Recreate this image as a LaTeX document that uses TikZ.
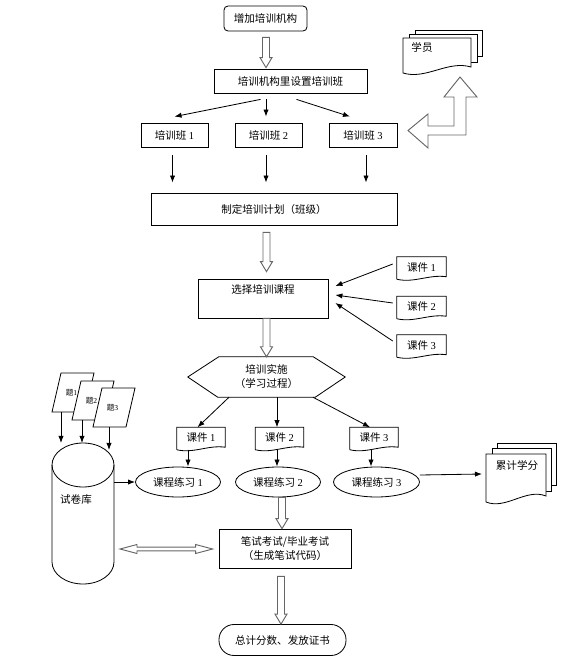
\documentclass[tikz,border=0pt]{standalone}
\usepackage{fontspec}
\setmainfont{Liberation Serif}
\newfontfamily\cjk{Noto Sans CJK SC}
\usetikzlibrary{arrows.meta,calc,shapes.geometric}
\newlength\px
\setlength\px{0.03cm}
\tikzset{
  every node/.style={font=\cjk\fontsize{9}{12}\selectfont, inner sep=0pt, align=center},
  box/.style={draw, line width=0.7pt},
  arr/.style={-{Latex[length=6pt,width=4.5pt]}, line width=0.7pt},
  hollow/.style={draw=black!60, fill=white, line width=0.8pt},
  page/.style={draw, fill=white, line width=0.7pt},
}
% document shape drawn round a plain node
\newcommand\docoutline[1]{%
  \draw[line width=0.7pt] ([yshift=-1\px]#1.south west) -- (#1.north west) -- (#1.north east) -- ([yshift=1.5\px]#1.south east)
    .. controls ($(#1.south east)!0.35!(#1.south west)+(0,-4)$) and ($(#1.south east)!0.65!(#1.south west)+(0,5)$) .. ([yshift=-1\px]#1.south west);}
% hollow block arrow pointing down
\newcommand\hollowdown[2]{%
  \draw[hollow] let \p1=(#1), \p2=(#2) in
    (\x1-3.5\px,\y1) -- (\x1+3.5\px,\y1) -- (\x1+3.5\px,\y2+10\px) -- (\x1+6\px,\y2+10\px)
    -- (\x1,\y2) -- (\x1-6\px,\y2+10\px) -- (\x1-3.5\px,\y2+10\px) -- cycle;}

\begin{document}
\begin{tikzpicture}[x=0.03cm, y=-0.03cm]
\useasboundingbox (0,0) rectangle (577,665);
% Nodes
\node[box, rounded corners=4\px, minimum width=83\px, minimum height=25\px] (inst) at (265.5,18.5) {增加培训机构};
\node[box, minimum width=153\px, minimum height=24\px] (setup) at (290.5,81) {培训机构里设置培训班};
\node[box, minimum width=67\px, minimum height=24\px] (cls1) at (174.5,135) {培训班 \textrm{1}};
\node[box, minimum width=67\px, minimum height=24\px] (cls2) at (268.5,135) {培训班 \textrm{2}};
\node[box, minimum width=68\px, minimum height=24\px] (cls3) at (363,135) {培训班 \textrm{3}};
\node[box, minimum width=246\px, minimum height=32\px] (plan) at (274,209) {制定培训计划（班级）};
\node[box, minimum width=130\px, minimum height=39\px] (select) at (263,298.5) {选择培训课程\\\strut};
\node[minimum width=49\px, minimum height=21\px] (kj1r) at (421.5,267.5) {课件 \textrm{1}};
\node[minimum width=49\px, minimum height=21\px] (kj2r) at (421.5,307) {课件 \textrm{2}};
\node[minimum width=49\px, minimum height=21\px] (kj3r) at (421.5,345.5) {课件 \textrm{3}};
\node[minimum width=157\px, minimum height=40\px] (impl) at (266.5,377) {培训实施\\（学习过程）};
\node[minimum width=48\px, minimum height=21\px] (kj1) at (201,438) {课件 \textrm{1}};
\node[minimum width=48\px, minimum height=21\px] (kj2) at (279.5,438) {课件 \textrm{2}};
\node[minimum width=48\px, minimum height=21\px] (kj3) at (374,438) {课件 \textrm{3}};
\node[box, ellipse, minimum width=85\px, minimum height=30\px] (ex1) at (178,482) {课程练习 \textrm{1}};
\node[box, ellipse, minimum width=85\px, minimum height=30\px] (ex2) at (278,482) {课程练习 \textrm{2}};
\node[box, ellipse, minimum width=86\px, minimum height=30\px] (ex3) at (376.5,482) {课程练习 \textrm{3}};
\node[box, minimum width=132\px, minimum height=39\px] (exam) at (285,548.5) {笔试考试/毕业考试\\（生成笔试代码）};
\node[box, rounded corners=15\px, minimum width=127\px, minimum height=31\px] (final) at (282.5,640) {总计分数、发放证书};
\foreach \d in {kj1r,kj2r,kj3r,kj1,kj2,kj3} \docoutline{\d};
\draw[line width=0.7pt] (impl.west) -- ([xshift=31\px]impl.north west) -- ([xshift=-32\px]impl.north east) -- (impl.east)
  -- ([xshift=-30\px]impl.south east) -- ([xshift=30\px]impl.south west) -- cycle;
% stacked pages
\draw[page] (415,30) rectangle (482,56);
\draw[page] (409,34) rectangle (477,62);
\draw[page] (403,38) -- (471,38) -- (471,67) .. controls (448,60) and (426,80) .. (403,73) -- cycle;
\node (trainee) at (422,47) {学员};
\draw[page] (497,443) rectangle (556,485);
\draw[page] (492,448) rectangle (551,491);
\draw[page] (486,454) -- (546,454) -- (546,496) .. controls (526,488) and (506,510) .. (486,502) -- cycle;
\node (credit) at (517,465) {累计学分};
\coordinate (creditin) at (482,474);
% question bank
\draw[line width=0.7pt] (52,465) -- (52,562) arc[start angle=180, end angle=0, x radius=31, y radius=22] -- (114,465);
\draw[line width=0.7pt] (83,465) ellipse[x radius=31, y radius=22];
\node (bank) at (76,499) {试卷库};
\coordinate (bankr) at (114,482);
\coordinate (bankl) at (120,549);
\foreach \n/\x/\y in {1/61/373, 2/81/381, 3/102/388}
  \draw[page] (\x,\y) -- ++(33,0) -- ++(-9,39) -- ++(-33,0) -- cycle;
\foreach \n/\x/\y/\ax/\ae in {1/61/373/61/443, 2/81/381/82/443, 3/102/388/109/450} {
  \node[font=\cjk\fontsize{6.5}{8}\selectfont] (q\n) at (\x+10.5,\y+19.5) {题\textrm{\n}};
  \coordinate (qa\n) at (\ax,\y+39);
  \coordinate (qe\n) at (\ax,\ae);
  \draw[arr] (qa\n) -- (qe\n);
}
% Edges
\draw[arr] ($(setup.south)+(-30,6)$) -- ($(cls1.north)+(0,-6)$);
\draw[arr] ($(setup.south -| cls2.north)+(-2.5,6)$) -- ($(cls2.north)+(-2.5,-6)$);
\draw[arr] ($(setup.south)+(6,6)$) -- ($(cls3.north)+(-13,-6)$);
\foreach \c/\d in {cls1/-2, cls2/-2.5, cls3/3}
  \draw[arr] ($(\c.south)+(\d,8)$) -- ($(\c.south |- plan.north)+(\d,-10)$);
\draw[arr] ($(kj1r.west)+(-4,-3.5)$) -- ($(select.east)+(7,-12.5)$);
\draw[arr] ($(kj2r.west)+(-4,-4)$) -- ($(select.east)+(7,-3.5)$);
\draw[arr] ($(kj3r.west)+(-4,-4.5)$) -- ($(select.east)+(7,4.5)$);
\draw[arr] ($(impl.south)+(-37.5,0)$) -- ($(kj1.north)+(-3.5,0)$);
\draw[arr] ($(kj2.north |- impl.south)+(-2.5,0)$) -- ($(kj2.north)+(-2.5,0)$);
\draw[arr] ($(impl.south)+(46.5,0)$) -- ($(kj3.north)+(-4,0)$);
\foreach \k/\e/\d in {kj1/ex1/-13, kj2/ex2/-2.5, kj3/ex3/-3}
  \draw[arr] ($(\k.south)+(\d,1)$) -- ($(\k.south |- \e.north)+(\d,0)$);
\draw[arr] (bankr) -- (ex1.west);
\draw[arr] ($(ex3.east)+(0,-7)$) -- (creditin);
% hollow arrows
\hollowdown{$(inst.south)+(0.5,6)$}{$(inst.south |- setup.north)+(0.5,-1)$}
\hollowdown{$(plan.south -| impl.north)+(0,7)$}{$(select.north -| impl.north)+(0,-7)$}
\hollowdown{select.south -| impl.north}{impl.north}
\hollowdown{$(ex2.south -| exam.north)+(-3,0)$}{$(exam.north)+(-3,0)$}
\hollowdown{$(exam.south)+(-4,8)$}{$(exam.south |- final.north)+(-4,0)$}
\draw[hollow] let \p1=(bankl), \p2=($(exam.west)+(-6,0)$) in
  (\p1) -- (\x1+17\px,\y1+4.5\px) -- (\x1+17\px,\y1+1.8\px) -- (\x2-17\px,\y1+1.8\px) -- (\x2-17\px,\y1+4.5\px)
  -- (\x2,\y1) -- (\x2-17\px,\y1-4.5\px) -- (\x2-17\px,\y1-1.8\px) -- (\x1+17\px,\y1-1.8\px) -- (\x1+17\px,\y1-4.5\px) -- cycle;
\draw[hollow] (460,77) -- (477,97) -- (466,97) -- (466,135) -- (428,135) -- (428,148) -- (408,130.5)
  -- (428,114) -- (428,126) -- (454,126) -- (454,97) -- (444,97) -- cycle;
\end{tikzpicture}
\end{document}
